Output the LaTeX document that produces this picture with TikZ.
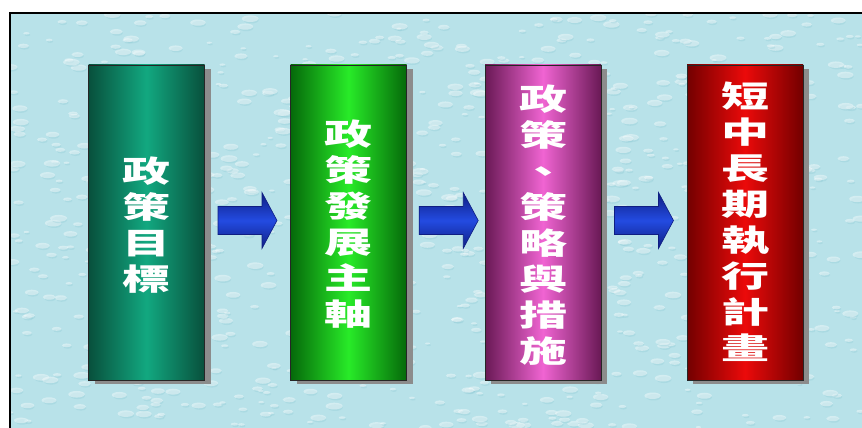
\documentclass[tikz,border=0pt]{standalone}
\usepackage{fontspec}
\usepackage{graphicx}
\newfontfamily\cjk{Noto Sans CJK TC}[BoldFont={Noto Sans CJK TC Black}]
\usetikzlibrary{calc,shadows}
\definecolor{bgcyan}{RGB}{184,226,233}
\definecolor{dropdark}{RGB}{140,200,212}
\definecolor{tealedge}{RGB}{8,80,60}
\definecolor{tealmid}{RGB}{18,168,128}
\definecolor{greenedge}{RGB}{5,105,10}
\definecolor{greenmid}{RGB}{40,235,40}
\definecolor{pinkedge}{RGB}{105,25,85}
\definecolor{pinkmid}{RGB}{240,100,210}
\definecolor{rededge}{RGB}{115,0,0}
\definecolor{redmid}{RGB}{235,10,10}
\definecolor{arrowedge}{RGB}{15,30,130}
\definecolor{arrowmid}{RGB}{35,75,225}
\tikzset{
  colbox/.style={draw=black!85, line width=0.8pt, minimum width=116pt,
    minimum height=315pt, inner sep=0pt,
    drop shadow={shadow xshift=6pt, shadow yshift=-4pt, fill=black!45, opacity=1}},
  boxtext/.style={align=center, inner sep=0pt, xscale=1.6, text=white,
    font=\cjk\bfseries\fontsize{30}{36}\selectfont},
  blockarrow/.style={draw=arrowedge, line width=0.6pt,
    top color=arrowedge, bottom color=arrowedge, middle color=arrowmid}
}
\newcommand{\blockarrowat}[1]{%
  \path[blockarrow] ($(#1)+(-29.5,-14)$) -- ++(44,0) -- ++(0,-14) -- ++(15,28)
    -- ++(-15,28) -- ++(0,-14) -- ++(-44,0) -- cycle;}
\begin{document}
\begin{tikzpicture}[x=1pt,y=-1pt]
\useasboundingbox (0,0) rectangle (862,428);
% background
\fill[bgcyan] (10,13) rectangle (862,428);
\begin{scope}
  \clip (10,13) rectangle (862,428);
  \pgfmathsetseed{7}
  \foreach \i in {1,...,900}{
    \pgfmathsetmacro\px{10+rnd*852}
    \pgfmathsetmacro\py{13+rnd*415}
    \pgfmathsetmacro\rx{2.5+rnd*6}
    \fill[dropdark, opacity=0.3] (\px+1,\py+1.5) ellipse ({\rx*0.9} and {\rx*0.4});
    \fill[white, opacity=0.4] (\px,\py) ellipse ({\rx} and {\rx*0.4});
  }
\end{scope}
\draw[line width=2pt] (10,428) -- (10,13) -- (862,13);
% boxes
\node[colbox, left color=tealedge, right color=tealedge, middle color=tealmid] (b1) at (146.5,222.5) {};
\node[colbox, left color=greenedge, right color=greenedge, middle color=greenmid] (b2) at (348.5,222.5) {};
\node[colbox, left color=pinkedge, right color=pinkedge, middle color=pinkmid] (b3) at (543,222.5) {};
\node[colbox, left color=rededge, right color=rededge, middle color=redmid] (b4) at (745,222.5) {};
% texts
\node[boxtext] (t1) at ($(b1.center)+(0,2.5)$) {政\\策\\目\\標};
\node[boxtext] (t2) at ($(b2.center)+(0,1.5)$) {政\\策\\發\\展\\主\\軸};
\node[boxtext] (t3) at ($(b3.center)+(0,2.5)$) {政\\策\\、\\策\\略\\與\\措\\施};
\node[boxtext] (t4) at ($(b4.center)+(0,-0.5)$) {短\\中\\長\\期\\執\\行\\計\\畫};
% arrows
\coordinate (m1) at ($(b1.east)!0.5!(b2.west)+(0,-2)$);
\coordinate (m2) at ($(b2.east)!0.5!(b3.west)+(3,-2)$);
\coordinate (m3) at ($(b3.east)!0.5!(b4.west)+(0,-2)$);
\blockarrowat{m1}
\blockarrowat{m2}
\blockarrowat{m3}
\end{tikzpicture}
\end{document}
